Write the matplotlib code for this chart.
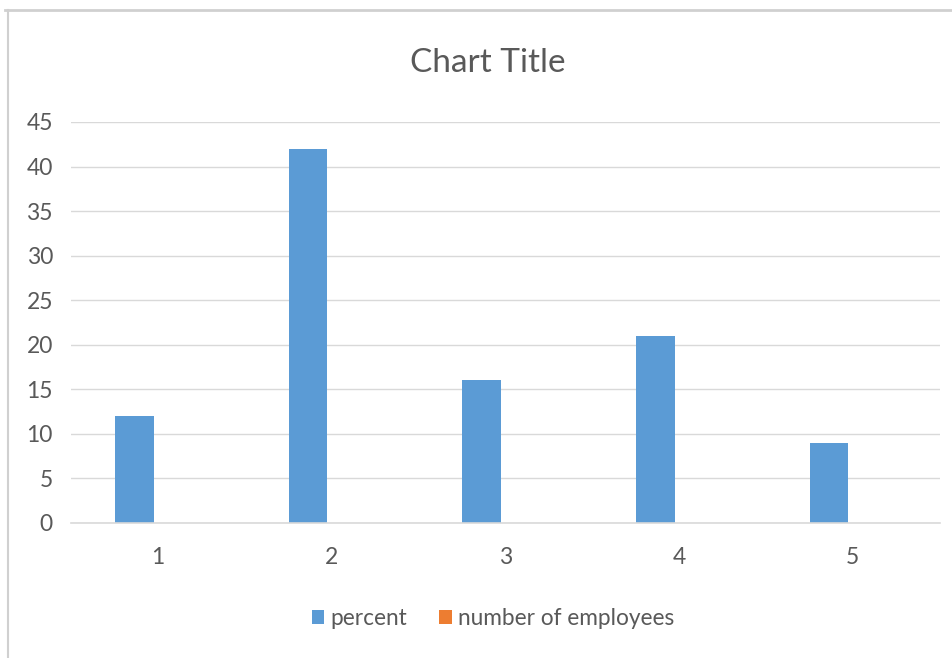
import matplotlib
matplotlib.use("Agg")
import matplotlib.pyplot as plt
from matplotlib.lines import Line2D
from matplotlib.patches import Patch
import numpy as np

categories = ["1", "2", "3", "4", "5"]
percent = [12, 42, 16, 21, 9]
employees = [0, 0, 0, 0, 0]
yticks = [0, 5, 10, 15, 20, 25, 30, 35, 40, 45]

BLUE = "#5B9BD5"
ORANGE = "#ED7D31"
TEXT = "#595959"
GRID = "#D9D9D9"

plt.rcParams["font.family"] = ["Lato", "DejaVu Sans"]

fig = plt.figure(figsize=(9.52, 6.58), dpi=100)
ax = fig.add_axes([0.0746, 0.2052, 0.9124, 0.6094])

x = np.arange(len(categories))
w = 0.222
off = 0.136
ax.bar(x - off, percent, width=w, color=BLUE, label="percent")
ax.bar(x + off, employees, width=w, color=ORANGE, label="number of employees")

ax.set_xlim(-0.5, len(categories) - 0.5)
ax.set_ylim(0, 45)
ax.set_yticks(yticks)
ax.set_xticks(x)
ax.set_xticklabels(categories)
ax.tick_params(axis="both", length=0, colors=TEXT, labelsize=16.5)
ax.tick_params(axis="x", pad=17)
ax.tick_params(axis="y", pad=13)
ax.yaxis.grid(True, color=GRID, linewidth=1)
ax.set_axisbelow(True)
for side in ("top", "right", "left"):
    ax.spines[side].set_visible(False)
ax.spines["bottom"].set_color(GRID)
ax.spines["bottom"].set_linewidth(1.2)

fig.text(0.512, 0.905, "Chart Title", ha="center", va="center",
         fontsize=24, color=TEXT)

handles = [Patch(facecolor=BLUE, edgecolor="none"),
           Patch(facecolor=ORANGE, edgecolor="none")]
fig.legend(handles, ["percent", "number of employees"], loc="center",
           bbox_to_anchor=(0.518, 0.06), ncol=2, frameon=False,
           fontsize=16.3, labelcolor=TEXT, handlelength=0.55,
           handleheight=0.55, handletextpad=0.3, columnspacing=1.4)

# outer chart frame
fig.add_artist(Line2D([0.005, 1.0], [0.985, 0.985], transform=fig.transFigure,
                      color="#D0D0D0", linewidth=2))
fig.add_artist(Line2D([0.0085, 0.0085], [0.0, 0.985], transform=fig.transFigure,
                      color="#D0D0D0", linewidth=1.5))

fig.savefig("out.png", dpi=100, facecolor="white")
